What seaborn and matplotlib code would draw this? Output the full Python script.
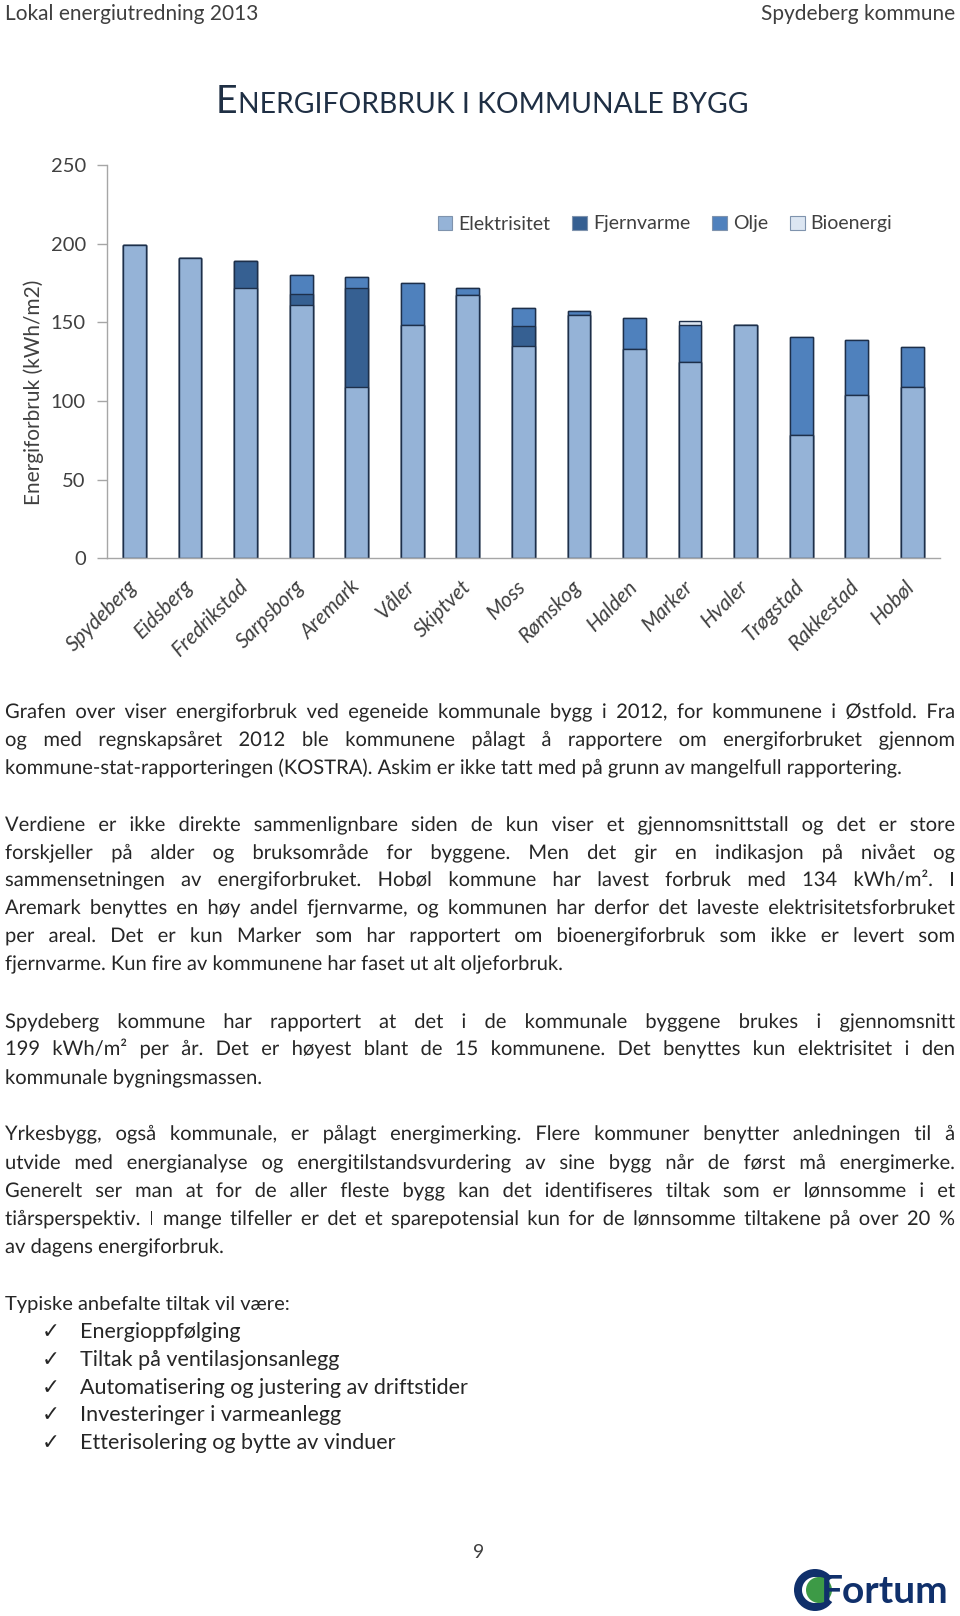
import numpy as np
import matplotlib
matplotlib.use("Agg")
import matplotlib.pyplot as plt
import seaborn as sns
from matplotlib.patches import Patch, Circle, Wedge, PathPatch
from matplotlib.transforms import IdentityTransform, Affine2D
from matplotlib.textpath import TextPath
from matplotlib.font_manager import FontProperties

# ---------------- data ----------------
kommuner = ["Spydeberg", "Eidsberg", "Fredrikstad", "Sarpsborg", "Aremark", "Våler",
            "Skiptvet", "Moss", "Rømskog", "Halden", "Marker", "Hvaler", "Trøgstad",
            "Rakkestad", "Hobøl"]
elektrisitet = [199, 191, 172, 161, 109, 148, 167.5, 135, 154.5, 133, 125, 148, 78.5, 103.5, 109]
fjernvarme = [0, 0, 17, 7, 62.5, 0, 0, 12.5, 0, 0, 0, 0, 0, 0, 0]
olje = [0, 0, 0, 12, 7, 27, 4, 11.5, 2.5, 20, 23.5, 0, 62, 35.5, 25]
bioenergi = [0, 0, 0, 0, 0, 0, 0, 0, 0, 0, 2.5, 0, 0, 0, 0]
serier = ["Elektrisitet", "Fjernvarme", "Olje", "Bioenergi"]
farger = ["#95B3D7", "#366092", "#4F81BD", "#DCE6F2"]
y_ticks = [0, 50, 100, 150, 200, 250]

W, H = 960, 1616
sns.set_theme(style="white")
plt.rcParams['font.family'] = ['Lato', 'DejaVu Sans']
TXT = "#262626"
GREY = "#404040"
AX = "#A6A6A6"

fig = plt.figure(figsize=(W / 100, H / 100), dpi=100)
fig.patch.set_facecolor("white")
renderer = fig.canvas.get_renderer()


def fx(x):
    return x / W


def fy(y):
    return 1 - y / H


# ---------------- chart ----------------
ax_l, ax_r, ax_t, ax_b = 106.7, 940.0, 165.0, 558.3
ax = fig.add_axes([fx(ax_l), fy(ax_b), (ax_r - ax_l) / W, (ax_b - ax_t) / H])

layers = [np.array(elektrisitet), np.array(fjernvarme), np.array(olje), np.array(bioenergi)]
cum = np.cumsum(layers, axis=0)
edge = "#1d2f4a"
for i in range(3, -1, -1):
    sns.barplot(x=kommuner, y=cum[i], order=kommuner, color=farger[i], saturation=1,
                width=0.41, edgecolor=edge, linewidth=1.0, ax=ax)

ax.set_xlim(-0.5, len(kommuner) - 0.5)
ax.set_ylim(0, 250)
ax.set_yticks(y_ticks)
ax.set_yticklabels([str(v) for v in y_ticks], fontsize=14.5, color=GREY)
ax.set_xticks(range(len(kommuner)))
ax.set_xticklabels(kommuner, rotation=45, ha="right", va="center",
                   rotation_mode="anchor", fontsize=15, color=GREY, style="italic")
ax.set_xticks(np.arange(-0.5, len(kommuner), 1), minor=True)
ax.tick_params(axis="x", which="major", length=0, pad=18)
ax.tick_params(axis="x", which="minor", length=7, width=1, color=AX, direction="out")
ax.tick_params(axis="y", length=7, width=1, color=AX, direction="out", pad=8, left=True)
for s in ["top", "right"]:
    ax.spines[s].set_visible(False)
for s in ["left", "bottom"]:
    ax.spines[s].set_color(AX)
    ax.spines[s].set_linewidth(1)
ax.set_xlabel("")
ax.set_ylabel("Energiforbruk (kWh/m2)", fontsize=15, color=GREY)
ax.yaxis.set_label_coords((44 - ax_l) / (ax_r - ax_l), (ax_b - 392) / (ax_b - ax_t))
ax.grid(False)

handles = [Patch(facecolor=c, edgecolor="#7f93ad", linewidth=0.8, label=s)
           for s, c in zip(serier, farger)]
fig.legend(handles=handles, loc="center", bbox_to_anchor=(fx(665), fy(224)), ncol=4,
           frameon=False, fontsize=14, handlelength=0.75, handleheight=0.75,
           handletextpad=0.3, columnspacing=1.15, labelcolor=GREY)

# ---------------- header / title ----------------
fig.text(fx(5), fy(20), "Lokal energiutredning 2013", fontsize=15, color="#3F3F3F",
         ha="left", va="baseline")
fig.text(fx(955), fy(20), "Spydeberg kommune", fontsize=15, color="#3F3F3F",
         ha="right", va="baseline")

title_col = "#1F2F44"
tE = fig.text(fx(216), fy(113), "E", fontsize=27, color=title_col, ha="left",
              va="baseline", weight="normal")
eb = tE.get_window_extent(renderer)
fig.text(eb.x1 / W, fy(113), "NERGIFORBRUK I KOMMUNALE BYGG", fontsize=20.3,
         color=title_col, ha="left", va="baseline", weight="normal")

# ---------------- body text ----------------
paragraphs = [
    ([718, 746, 774], [
        "Grafen over viser energiforbruk ved egeneide kommunale bygg i 2012, for kommunene i Østfold. Fra",
        "og med regnskapsåret 2012 ble kommunene pålagt å rapportere om energiforbruket gjennom",
        "kommune-stat-rapporteringen (KOSTRA). Askim er ikke tatt med på grunn av mangelfull rapportering.",
    ]),
    ([831, 859, 886, 914, 942, 970], [
        "Verdiene er ikke direkte sammenlignbare siden de kun viser et gjennomsnittstall og det er store",
        "forskjeller på alder og bruksområde for byggene. Men det gir en indikasjon på nivået og",
        "sammensetningen av energiforbruket. Hobøl kommune har lavest forbruk med 134 kWh/m². I",
        "Aremark benyttes en høy andel fjernvarme, og kommunen har derfor det laveste elektrisitetsforbruket",
        "per areal. Det er kun Marker som har rapportert om bioenergiforbruk som ikke er levert som",
        "fjernvarme. Kun fire av kommunene har faset ut alt oljeforbruk.",
    ]),
    ([1028, 1055, 1084], [
        "Spydeberg kommune har rapportert at det i de kommunale byggene brukes i gjennomsnitt",
        "199 kWh/m² per år. Det er høyest blant de 15 kommunene. Det benyttes kun elektrisitet i den",
        "kommunale bygningsmassen.",
    ]),
    ([1140, 1169, 1197, 1225, 1253], [
        "Yrkesbygg, også kommunale, er pålagt energimerking. Flere kommuner benytter anledningen til å",
        "utvide med energianalyse og energitilstandsvurdering av sine bygg når de først må energimerke.",
        "Generelt ser man at for de aller fleste bygg kan det identifiseres tiltak som er lønnsomme i et",
        "tiårsperspektiv. I mange tilfeller er det et sparepotensial kun for de lønnsomme tiltakene på over 20 %",
        "av dagens energiforbruk.",
    ]),
]

X0, X1 = 5, 955
base_size = 14.5
widest = 0
for ys, lines in paragraphs:
    for ln in lines:
        t = fig.text(0, 0, ln, fontsize=base_size)
        widest = max(widest, t.get_window_extent(renderer).width)
        t.remove()
fs = min(base_size, base_size * (X1 - X0 - 8) / widest)
body_prop = FontProperties(family="Lato", size=fs)
PT = 100 / 72.0


def text_width(s):
    t = fig.text(0, 0, s, fontsize=fs)
    w = t.get_window_extent(renderer).width
    t.remove()
    return w


def draw_word(s, x, y):
    # draw as a glyph path so that all words share one exact baseline
    tp = TextPath((0, 0), s, prop=body_prop)
    fig.add_artist(PathPatch(tp, facecolor=TXT, edgecolor="none", lw=0,
                             transform=Affine2D().scale(PT).translate(x, H - y)))


def put_line(text, y, justify):
    if not justify:
        draw_word(text, X0, y)
        return
    words = text.split(" ")
    widths = [text_width(w) for w in words]
    gap = (X1 - X0 - sum(widths)) / (len(words) - 1)
    x = X0
    for w_txt, w in zip(words, widths):
        draw_word(w_txt, x, y)
        x += w + gap


for ys, lines in paragraphs:
    for k, (y, ln) in enumerate(zip(ys, lines)):
        put_line(ln, y, k < len(lines) - 1)

fig.text(fx(X0), fy(1310), "Typiske anbefalte tiltak vil være:", fontsize=fs, color=TXT,
         ha="left", va="baseline")
tiltak = ["Energioppfølging", "Tiltak på ventilasjonsanlegg",
          "Automatisering og justering av driftstider", "Investeringer i varmeanlegg",
          "Etterisolering og bytte av vinduer"]
for k, item in enumerate(tiltak):
    y = 1338 + k * 27.8
    fig.text(fx(42), fy(y), "\u2713", fontsize=fs + 1, color=TXT, ha="left", va="baseline",
             family=["DejaVu Sans"], weight="bold")
    fig.text(fx(80), fy(y), item, fontsize=fs + 1, color=TXT, ha="left", va="baseline")

# ---------------- footer ----------------
fig.text(fx(479), fy(1558), "9", fontsize=14, color="#3F3F3F", ha="center", va="baseline")

navy = "#10306b"
cx, cy = 815, H - 1590
fig.add_artist(Wedge((cx, cy), 21, 35, 325, width=8, facecolor=navy, edgecolor="none",
                     transform=IdentityTransform()))
fig.add_artist(Circle((cx + 4, cy), 13, facecolor="#3d9a46", edgecolor="none",
                      transform=IdentityTransform()))
fig.text(fx(948), fy(1603), "Fortum", fontsize=28, weight="bold", color=navy,
         ha="right", va="baseline")

fig.savefig("out.png", dpi=100, facecolor="white")
